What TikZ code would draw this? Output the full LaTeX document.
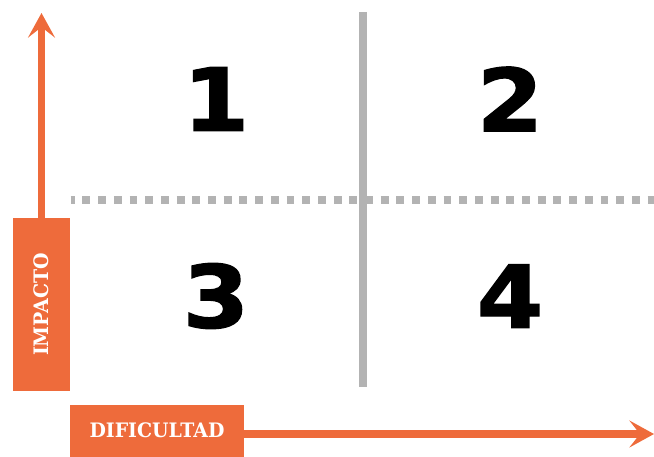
\documentclass[tikz,border=0pt]{standalone}
\usepackage{fontspec}
\setmainfont{DejaVu Serif}
\newfontfamily\labelfont[FakeStretch=0.95]{DejaVu Serif}
\newfontfamily\numfont[BoldFeatures={FakeBold=1.5}]{DejaVu Sans}
\usetikzlibrary{arrows.meta, positioning}
\definecolor{morange}{HTML}{EE6B3B}
\definecolor{mgrid}{HTML}{B3B3B3}

\begin{document}
\begin{tikzpicture}[
        x=0.03cm, y=-0.03cm,
        axisbox/.style = {fill=morange, inner sep=0pt, text=white, font=\labelfont\bfseries\fontsize{17}{17}\selectfont},
        axis/.style = {draw=morange, line width=6.8pt, -{Stealth[length=21pt, width=23pt, inset=9pt]}},
        grid/.style = {draw=mgrid, line width=6.8pt},
        quad/.style = {font=\numfont\bfseries\fontsize{74}{74}\selectfont, xscale=1.1}
    ]
        \useasboundingbox (0,0) rectangle (654,457);

        % axis labels
        \node (impacto) [axisbox, minimum width=173*0.03cm, minimum height=57*0.03cm, rotate=90] at (41.5,304.5) {IMPACTO};
        \node (dificultad) [axisbox, minimum width=174*0.03cm, minimum height=52*0.03cm] at (157,430.5) {DIFICULTAD};
        \coordinate (ytip) at (41.5,13);
        \coordinate (xtip) at (654,434);

        % grid
        \draw [grid] (363,12) -- (363,387);
        \draw [grid, dash pattern=on 6.8pt off 6.6pt, dash phase=3.4pt] (70.7,200) -- (654,200);

        % quadrants
        \node (q1) [quad] at (216,99) {1};
        \node (q2) [quad] at (510,99) {2};
        \node (q3) [quad] at (216,296) {3};
        \node (q4) [quad] at (510,296) {4};

        \draw [axis] (impacto.east) -- (ytip);
        \draw [axis] (dificultad.east |- xtip) -- (xtip);

    \end{tikzpicture}
\end{document}
